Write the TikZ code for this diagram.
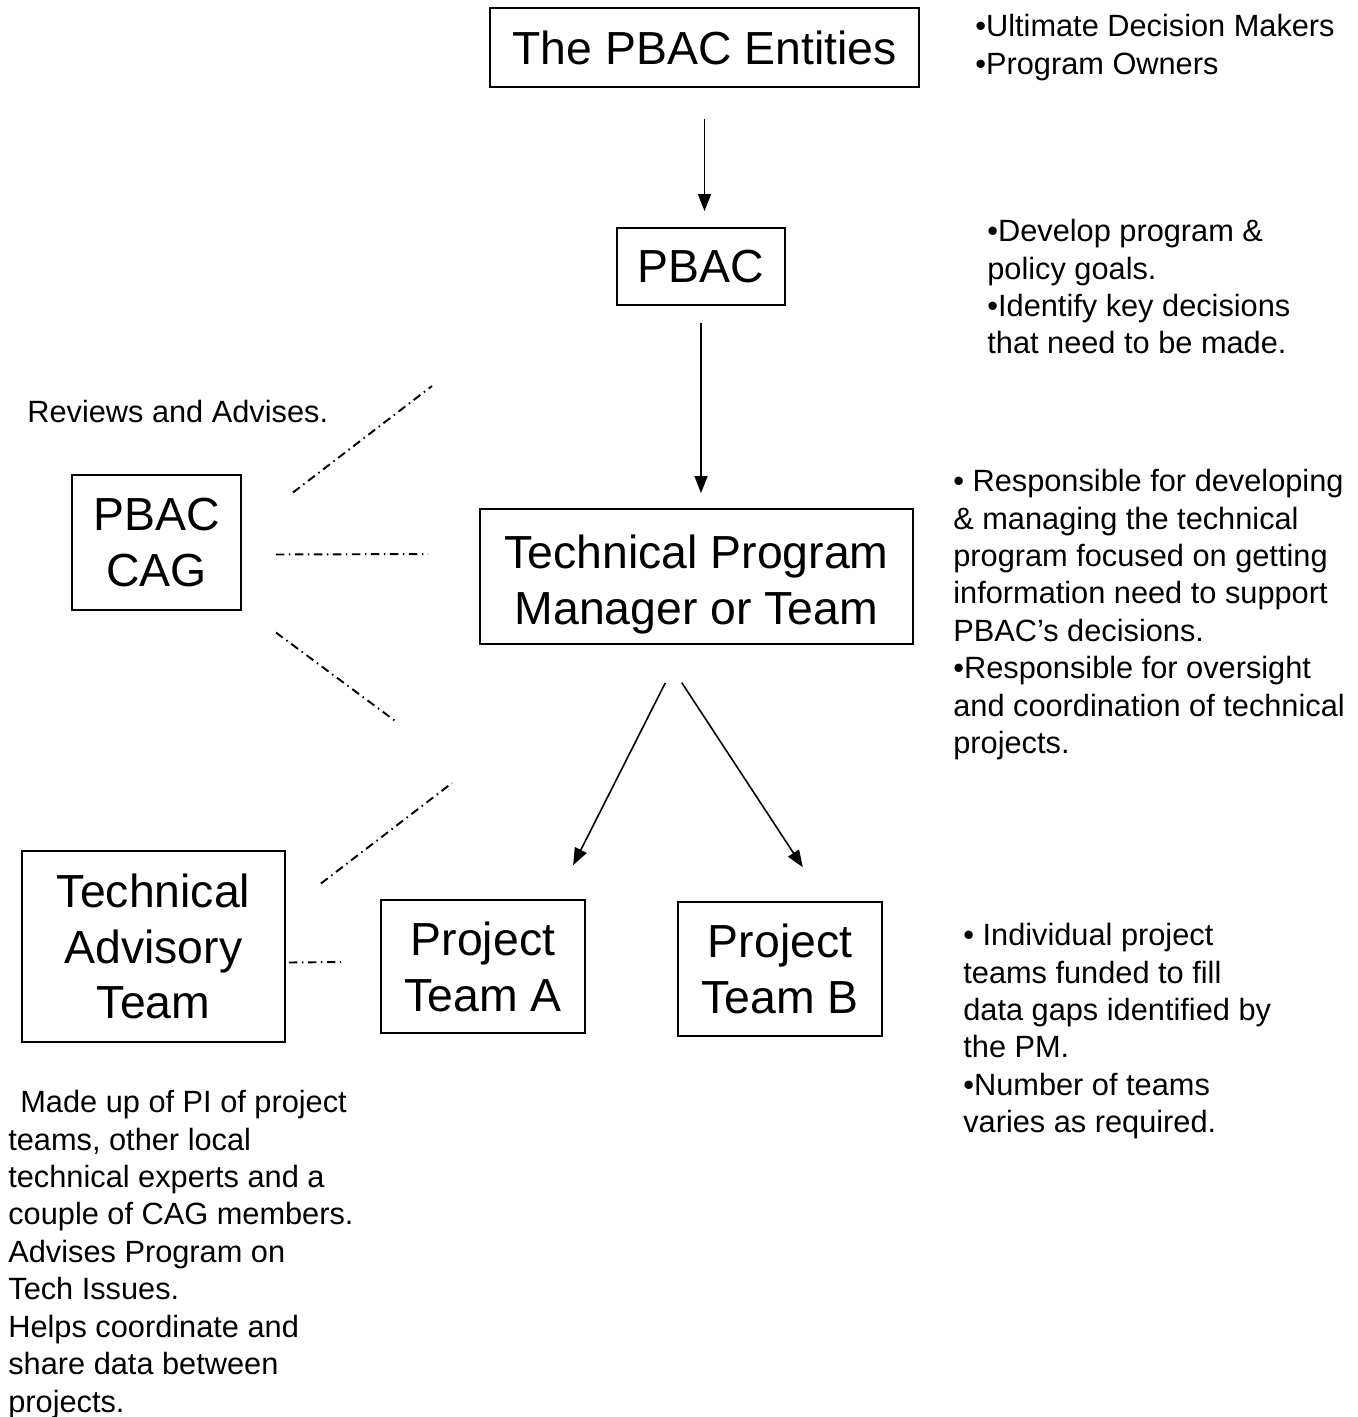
\documentclass[tikz,border=0pt]{standalone}
\usepackage{fontspec}
\setmainfont{Liberation Sans}
\usetikzlibrary{arrows.meta}

\begin{document}
\begin{tikzpicture}[x=0.02cm, y=-0.02cm, boxStyle/.style={rectangle, draw, line width=1.1pt, inner sep=0pt, align=center, font=\fontsize{26.4}{31.8}\selectfont}, noteStyle/.style={anchor=north west, inner sep=0pt, align=left, font=\fontsize{17.5}{21.3}\selectfont}, arrowStyle/.style={-{Triangle[length=0.34cm, width=0.26cm]}, line width=0.9pt}, linkStyle/.style={line width=1.1pt, dash pattern=on 0.17cm off 0.09cm on 0.03cm off 0.09cm}]
                    \useasboundingbox (0, 0) rectangle (1358, 1417);
                    \node[boxStyle, minimum width=8.58cm, minimum height=1.58cm] (entities) at (704.5,  47.5) {The PBAC Entities};
                    \node[boxStyle, minimum width=3.36cm, minimum height=1.54cm] (pbac)     at (701  , 266.5) {PBAC};
                    \node[boxStyle, minimum width=8.66cm, minimum height=2.70cm] (tpm)      at (696.5, 576.5) {\rule{0pt}{1.0cm}Technical Program\\Manager or Team};
                    \node[boxStyle, minimum width=3.38cm, minimum height=2.70cm] (cag)      at (156.5, 542.5) {PBAC\\CAG};
                    \node[boxStyle, minimum width=5.26cm, minimum height=3.82cm] (tat)      at (153.5, 946.5) {Technical\\Advisory\\Team};
                    \node[boxStyle, minimum width=4.08cm, minimum height=2.66cm] (team_a)   at (483  , 966.5) {Project\\Team A};
                    \node[boxStyle, minimum width=4.08cm, minimum height=2.68cm] (team_b)   at (780  , 969  ) {Project\\Team B};
                    \draw[arrowStyle, shorten <=0.62cm, shorten >=0.32cm] (entities.south) -- (entities.south |- pbac.north);
                    \draw[arrowStyle, shorten <=0.34cm, shorten >=0.30cm] (pbac.south) -- (pbac.south |- tpm.north);
                    \draw[arrowStyle, shorten <=0.85cm, shorten >=0.76cm] ([xshift=-0.24cm]tpm.south) -- ([xshift=1.46cm]team_a.north);
                    \draw[arrowStyle, shorten <=0.90cm, shorten >=0.81cm] ([xshift=-0.79cm]tpm.south) -- ([xshift=0.90cm]team_b.north);
                    \coordinate (review_end)   at (432, 386);
                    \coordinate (program_end)  at (428, 554);
                    \coordinate (project_end)  at (398, 723);
                    \coordinate (advisory_end) at (452, 783);
                    \coordinate (team_end)     at (341, 962);
                    \draw[linkStyle] ([shift={(51,-50)}]cag.east) -- (review_end);
                    \draw[linkStyle] ([shift={(34, 12)}]cag.east) -- (program_end);
                    \draw[linkStyle] ([shift={(34, 90)}]cag.east) -- (project_end);
                    \draw[linkStyle] ([shift={(35,-63)}]tat.east) -- (advisory_end);
                    \draw[linkStyle] ([shift={( 3, 16)}]tat.east) -- (team_end);
                    \node[noteStyle] (entities_note) at (975,   14) {•Ultimate Decision Makers\\•Program Owners};
                    \node[noteStyle] (pbac_note)     at (987,  219) {•Develop program \&\\policy goals.\\•Identify key decisions\\that need to be made.};
                    \node[noteStyle] (tpm_note)      at (953,  469) {• Responsible for developing\\\& managing the technical\\program focused on getting\\information need to support\\PBAC’s decisions.\\•Responsible for oversight\\and coordination of technical\\projects.};
                    \node[noteStyle] (team_note)     at (963,  923) {• Individual project\\teams funded to fill\\data gaps identified by\\the PM.\\•Number of teams\\varies as required.};
                    \node[noteStyle] (review_note)   at ( 27,  400) {Reviews and Advises.};
                    \node[noteStyle] (tat_note)      at (  8, 1090) {\hspace*{0.24cm}Made up of PI of project\\teams, other local\\technical experts and a\\couple of CAG members.\\Advises Program on\\Tech Issues.\\Helps coordinate and\\share data between\\projects.};
                \end{tikzpicture}
\end{document}
